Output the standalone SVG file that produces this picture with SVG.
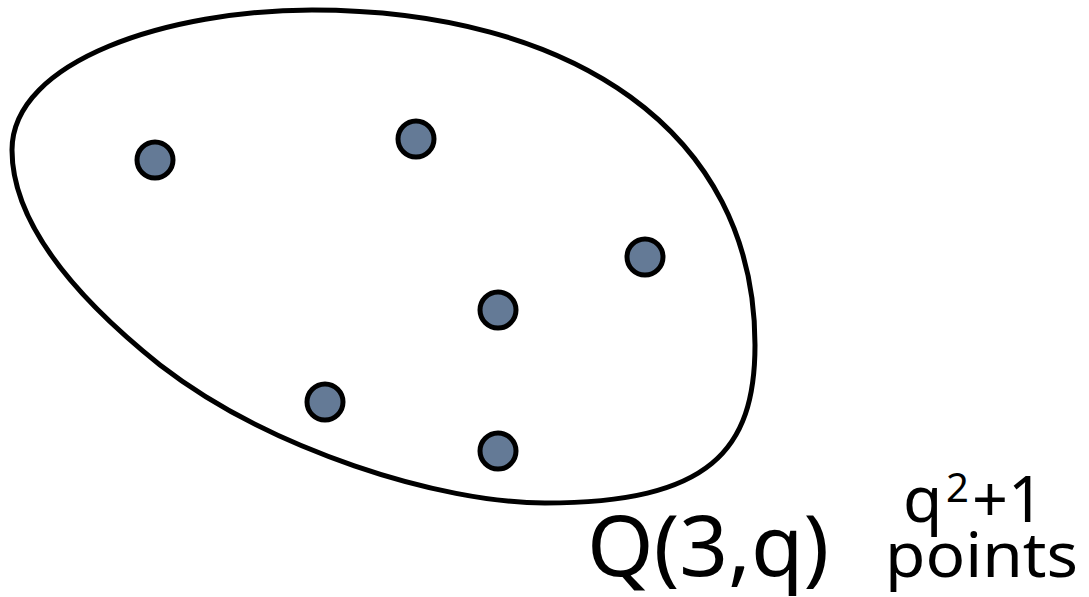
<svg xmlns="http://www.w3.org/2000/svg" width="1089" height="597" viewBox="0 0 1089 597">
<style>
.dot{fill:#647a96;stroke:#000;stroke-width:5}
.t{font-family:"Noto Sans","Liberation Sans",sans-serif;fill:#000}
</style>
<rect width="1089" height="597" fill="#fff"/>
<g id="oval">
<path d="M 312,10 C 570,10 755,130 755,345 C 755,450 710,503 545,503 C 440,503 270,450 160,365 C 90,309 12,230 12,150 C 12,60 170,10 312,10 Z" fill="none" stroke="#000" stroke-width="5"/>
</g>
<g id="points">
<circle class="dot" cx="155" cy="160" r="18"/>
<circle class="dot" cx="416" cy="139" r="18"/>
<circle class="dot" cx="645" cy="257" r="18"/>
<circle class="dot" cx="498" cy="310" r="18"/>
<circle class="dot" cx="325" cy="402" r="18"/>
<circle class="dot" cx="498" cy="451" r="18"/>
</g>
<g id="labels">
<text class="t" x="587" y="576" font-size="84" textLength="242" lengthAdjust="spacingAndGlyphs">Q(3,q)</text>
<text class="t" x="903" y="522" font-size="64">q</text>
<text class="t" x="946" y="502" font-size="40">2</text>
<text class="t" x="972" y="522" font-size="64" textLength="72" lengthAdjust="spacingAndGlyphs">+1</text>
<text class="t" x="885" y="577" font-size="62" textLength="193" lengthAdjust="spacingAndGlyphs">points</text>
</g>
</svg>
